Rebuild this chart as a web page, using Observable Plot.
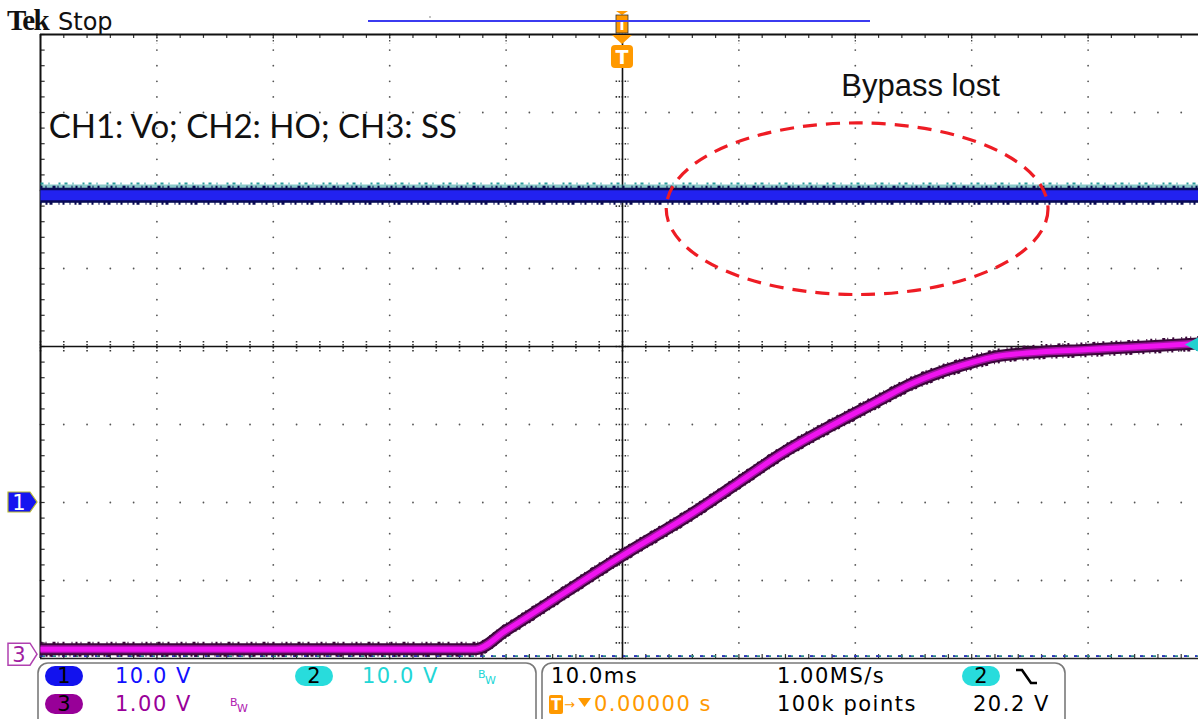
<!DOCTYPE html>
<html><head><meta charset="utf-8">
<script src="https://cdn.jsdelivr.net/npm/d3@7"></script>
<script src="https://cdn.jsdelivr.net/npm/@observablehq/plot@0.6"></script>
<style>body{margin:0;background:#fff;overflow:hidden} svg{display:block}</style>
</head><body><div id="chart"></div>
<script>
// ---- Scope settings ----
const timePerDiv = 10;            // ms / div
const ch1Scale = 10, ch2Scale = 10, ch3Scale = 1;   // V / div
const ch1Offset = -2, ch2Offset = -2, ch3Offset = -3.9; // ground marker (div)
const trigLevel = 20.2;           // V on CH2

// ---- Traces (time in ms, value in V) ----
const voTime = [-50, 49.5];
const voValues = [39.4, 39.4];          // CH1: Vo
const hoTime = [-50, 49.5];
const hoValues = [39.6, 39.6];          // CH2: HO
const ssTime = [-50, -12.6, -10.0, 0, 6.1, 10.0, 13.6, 19.9, 22.2, 24.5, 27.3, 29.9, 32.0, 35.0, 40.0, 45.0, 49.5];
const ssValues = [0.02, 0.02, 0.26, 1.22, 1.77, 2.16, 2.52, 3.04, 3.22, 3.40, 3.57, 3.69, 3.77, 3.82, 3.86, 3.90, 3.94]; // CH3: SS

// ---- Texts ----
const channelNote = "CH1: Vo; CH2: HO; CH3: SS";
const calloutText = "Bypass lost";
const callout = {t: 20.2, div: 1.76, halfT: 16.4, halfDiv: 1.1};
const ch1Setting = "10.0 V", ch2Setting = "10.0 V", ch3Setting = "1.00 V";
const timebase = "10.0ms", sampleRate = "1.00MS/s", trigPos = "0.00000 s", recordLen = "100k points", trigLevelText = "20.2 V";

// ---- Build tables ----
const vo = voTime.map((t, i) => ({t, div: voValues[i] / ch1Scale + ch1Offset}));
const ho = hoTime.map((t, i) => ({t, div: hoValues[i] / ch2Scale + ch2Offset}));
const ss = ssTime.map((t, i) => ({t, div: ssValues[i] / ch3Scale + ch3Offset}));

// graticule structure
const xMin = -5 * timePerDiv, xMax = 49.485;
const majorT = [-40, -30, -20, -10, 10, 20, 30, 40];
const majorD = [-3, -2, -1, 1, 2, 3];
const minorT = d3.range(-50, 50, timePerDiv / 5);
const minorD = d3.range(-4, 4.01, 0.2).map(d => +d.toFixed(2));
const gridDots = [];
for (const t of majorT) for (const d of minorD) gridDots.push({t, d});
for (const d of majorD) for (const t of minorT) if (!majorT.includes(t) && t !== 0) gridDots.push({t, d});

const FONT = "DejaVu Sans, sans-serif";

function statusBar(index, scales, values, dim) {
  const g = d3.create("svg:g").attr("font-family", FONT).attr("font-size", 21).attr("letter-spacing", 1.5).attr("text-anchor", "start");
  const top = dim.height - dim.marginBottom; // bottom of graticule
  const r1 = top + 18, r2 = top + 46;
  // boxes
  g.append("rect").attr("x", 38).attr("y", top + 5).attr("width", 498).attr("height", 70).attr("rx", 10)
    .attr("fill", "none").attr("stroke", "#7a7a7a").attr("stroke-width", 1.6);
  g.append("rect").attr("x", 542).attr("y", top + 5).attr("width", 523).attr("height", 70).attr("rx", 10)
    .attr("fill", "none").attr("stroke", "#7a7a7a").attr("stroke-width", 1.6);
  const pill = (cx, cy, fill, label) => {
    g.append("rect").attr("x", cx - 19).attr("y", cy - 10).attr("width", 38).attr("height", 20).attr("rx", 10).attr("fill", fill);
    g.append("text").attr("x", cx).attr("y", cy + 7).attr("text-anchor", "middle").attr("fill", "#000").attr("letter-spacing", 0).text(label);
  };
  const txt = (x, y, s, fill) => g.append("text").attr("x", x).attr("y", y + 7).attr("fill", fill).text(s);
  const bw = (x, y, fill) => {
    g.append("text").attr("x", x).attr("y", y + 2).attr("font-size", 11).attr("letter-spacing", 0).attr("fill", fill).text("B");
    g.append("text").attr("x", x + 7).attr("y", y + 8).attr("font-size", 11).attr("letter-spacing", 0).attr("fill", fill).text("W");
  };
  pill(64, r1, "#1212ee", "1");
  txt(115, r1, ch1Setting, "#1010ff");
  pill(314, r1, "#28dcdc", "2");
  txt(362, r1, ch2Setting, "#22d6d6");
  bw(478, r1, "#22d6d6");
  pill(64, r2, "#980098", "3");
  txt(115, r2, ch3Setting, "#990099");
  bw(230, r2, "#b020b0");

  txt(551, r1, timebase, "#000");
  txt(777, r1, sampleRate, "#000");
  pill(981, r1, "#28dcdc", "2");
  g.append("path").attr("d", `M1016,${r1 - 6}H1022L1031,${r1 + 7}H1037`).attr("fill", "none").attr("stroke", "#000").attr("stroke-width", 2.6);
  // trigger position
  g.append("rect").attr("x", 549).attr("y", r2 - 9).attr("width", 14).attr("height", 19).attr("rx", 2).attr("fill", "#ff9900");
  g.append("text").attr("x", 556).attr("y", r2 + 6).attr("text-anchor", "middle").attr("font-size", 15).attr("font-weight", "bold").attr("letter-spacing", 0).attr("fill", "#fff").text("T");
  g.append("text").attr("x", 564).attr("y", r2 + 5).attr("font-size", 13).attr("letter-spacing", 0).attr("fill", "#ff9900").text("→");
  g.append("path").attr("d", `M578,${r2 - 6}H591L584.5,${r2 + 3}Z`).attr("fill", "#ff9900");
  txt(594, r2, trigPos, "#ff9900");
  txt(777, r2, recordLen, "#000");
  txt(973, r2, trigLevelText, "#000");
  // header
  g.append("text").attr("x", 7).attr("y", 30).attr("font-family", "Liberation Serif, serif").attr("font-weight", "bold").attr("font-size", 29).attr("letter-spacing", -1.5).attr("fill", "#111").text("Tek");
  g.append("text").attr("x", 58).attr("y", 30).attr("font-size", 24).attr("letter-spacing", 0).attr("fill", "#111").text("Stop");
  // record view bar
  g.append("line").attr("x1", 368).attr("x2", 870).attr("y1", 21).attr("y2", 21).attr("stroke", "#3b3bf0").attr("stroke-width", 2);
  g.append("circle").attr("cx", 430).attr("cy", 17).attr("r", 0.8).attr("fill", "#777");
  return g.node();
}

function markers(index, scales, values, dim) {
  const g = d3.create("svg:g").attr("font-family", FONT);
  const xl = dim.marginLeft;
  // CH1 ground marker
  const y1 = scales.y(ch1Offset);
  g.append("path").attr("d", `M${xl - 32},${y1 - 10}H${xl - 10}L${xl - 3},${y1}L${xl - 10},${y1 + 10}H${xl - 32}Z`)
    .attr("fill", "#1515f0").attr("stroke", "#b8b830").attr("stroke-width", 1.2);
  g.append("text").attr("x", xl - 21).attr("y", y1 + 8).attr("text-anchor", "middle").attr("font-size", 21).attr("fill", "#fff").text("1");
  // CH3 ground marker
  const y3 = scales.y(ch3Offset) + 4;
  g.append("path").attr("d", `M${xl - 32},${y3 - 11}H${xl - 10}L${xl - 3},${y3}L${xl - 10},${y3 + 11}H${xl - 32}Z`)
    .attr("fill", "#fff").attr("stroke", "#b040b0").attr("stroke-width", 1.5);
  g.append("text").attr("x", xl - 21).attr("y", y3 + 8).attr("text-anchor", "middle").attr("font-size", 21).attr("fill", "#a020a0").text("3");
  // trigger level arrow (CH2)
  const yl = scales.y(trigLevel / ch2Scale + ch2Offset);
  const xr = dim.width;
  g.append("path").attr("d", `M${xr - 13},${yl}L${xr},${yl - 7}V${yl + 7}Z`).attr("fill", "#22d0d0");
  // trigger markers at t = 0
  const xt = scales.x(0);
  g.append("path").attr("d", `M${xt - 6},11H${xt + 6}L${xt},15Z`).attr("fill", "#ff9900");
  g.append("rect").attr("x", xt - 6).attr("y", 15).attr("width", 12).attr("height", 18).attr("fill", "#ff9900").attr("stroke", "#333").attr("stroke-width", 0.8);
  g.append("text").attr("x", xt).attr("y", 30).attr("text-anchor", "middle").attr("font-size", 14).attr("font-weight", "bold").attr("fill", "#fff").text("T");
  g.append("path").attr("d", `M${xt - 10},35H${xt + 10}L${xt},44Z`).attr("fill", "#ff9900");
  g.append("rect").attr("x", xt - 11).attr("y", 45).attr("width", 22).attr("height", 23).attr("rx", 4).attr("fill", "#ff9900");
  g.append("text").attr("x", xt).attr("y", 64).attr("text-anchor", "middle").attr("font-size", 19).attr("font-weight", "bold").attr("fill", "#fff").text("T");
  // callout ellipse
  const cx = scales.x(callout.t), cy = scales.y(callout.div);
  const rx = scales.x(callout.t + callout.halfT) - cx, ry = cy - scales.y(callout.div + callout.halfDiv);
  g.append("ellipse").attr("cx", cx).attr("cy", cy).attr("rx", rx).attr("ry", ry)
    .attr("fill", "none").attr("stroke", "#ee1c24").attr("stroke-width", 3.2).attr("stroke-dasharray", "14,9");
  return g.node();
}

const lineOpts = {x: "t", y: "div", strokeLinecap: "butt", strokeLinejoin: "round"};
const ssOpts = {...lineOpts, curve: "monotone-x"};
const spikes = "2,3,1,6,3,2,1,4,2,7,1,3";
const chart = Plot.plot({
  width: 1198, height: 719,
  marginLeft: 40, marginRight: 0, marginTop: 34, marginBottom: 61,
  x: {domain: [xMin, xMax], axis: null},
  y: {domain: [-4, 4], axis: null},
  style: {background: "#fff"},
  marks: [
    // graticule dots
    Plot.dot(gridDots, {x: "t", y: "d", r: 0.9, fill: "#555"}),
    // border ticks
    Plot.ruleX(minorT, {x: d => d, y1: 4, y2: 3.95, stroke: "#333", strokeWidth: 1.2}),
    Plot.ruleX(majorT, {x: d => d, y1: 4, y2: 3.88, stroke: "#333", strokeWidth: 1.2, strokeDasharray: "1.5,1.5"}),
    Plot.ruleY(minorD, {y: d => d, x1: xMin, x2: xMin + 0.4, stroke: "#333", strokeWidth: 1.2}),
    Plot.ruleX(minorT, {x: d => d, y1: -4, y2: -3.95, stroke: "#333", strokeWidth: 1.2}),
    // center crosshair ticks
    Plot.ruleX(minorT, {x: d => d, y1: -0.07, y2: 0.07, stroke: "#333", strokeWidth: 1.6, strokeDasharray: "1.5,1.5"}),
    Plot.ruleY(minorD, {y: d => d, x1: -0.55, x2: 0.55, stroke: "#333", strokeWidth: 1.6, strokeDasharray: "1.5,1.5"}),
    // center lines & borders
    Plot.ruleX([0], {stroke: "#111", strokeWidth: 1.6}),
    Plot.ruleY([0], {stroke: "#111", strokeWidth: 1.6}),
    Plot.ruleY([4], {stroke: "#111", strokeWidth: 2}),
    Plot.ruleY([-4], {stroke: "#222", strokeWidth: 1.6}),
    Plot.ruleX([xMin], {stroke: "#111", strokeWidth: 2}),
    // baseline channel noise
    Plot.ruleY([-3.97], {stroke: "#2a8a8a", strokeWidth: 1.6, strokeDasharray: "5,6"}),
    Plot.ruleY([-3.97], {stroke: "#3030c0", strokeWidth: 1.6, strokeDasharray: "3,8,2,9"}),
    // CH2 HO (mostly under CH1)
    Plot.line(ho, {...lineOpts, stroke: "#2a9a9a", strokeWidth: 18, strokeOpacity: 0.55}),
    Plot.line(ho, {...lineOpts, dy: -10, stroke: "#2a9a9a", strokeWidth: 2, strokeDasharray: "3,5,1,9,2,4"}),
    // CH1 Vo
    Plot.line(vo, {...lineOpts, dy: -8, stroke: "#0a0a55", strokeWidth: 3, strokeDasharray: spikes}),
    Plot.line(vo, {...lineOpts, dy: 8, stroke: "#0a0a55", strokeWidth: 3, strokeDasharray: "1,4,2,2,3,6,1,3,2,5"}),
    Plot.line(vo, {...lineOpts, stroke: "#0a0a55", strokeWidth: 15}),
    Plot.line(vo, {...lineOpts, stroke: "#2222f0", strokeWidth: 10}),
    // CH3 SS
    Plot.line(ss, {...ssOpts, dy: -6, stroke: "#3a083a", strokeWidth: 3, strokeDasharray: spikes}),
    Plot.line(ss, {...ssOpts, dy: 6, stroke: "#3a083a", strokeWidth: 3, strokeDasharray: "1,4,2,2,3,6,1,3,2,5"}),
    Plot.line(ss, {...ssOpts, stroke: "#3a083a", strokeWidth: 12}),
    Plot.line(ss, {...ssOpts, stroke: "#a012a0", strokeWidth: 8}),
    Plot.line(ss, {...ssOpts, stroke: "#f014f0", strokeWidth: 5}),
    // annotations
    Plot.text([channelNote], {x: xMin + 0.7, y: 2.81, text: d => d, textAnchor: "start", fontSize: 33, fontFamily: "Lato, sans-serif", fill: "#111"}),
    Plot.text([calloutText], {x: 18.8, y: 3.34, text: d => d, textAnchor: "start", fontSize: 31, fontFamily: "Liberation Sans, Arial, sans-serif", fill: "#111"}),
    markers,
    statusBar
  ]
});
document.getElementById("chart").appendChild(chart);
</script>
</body></html>
